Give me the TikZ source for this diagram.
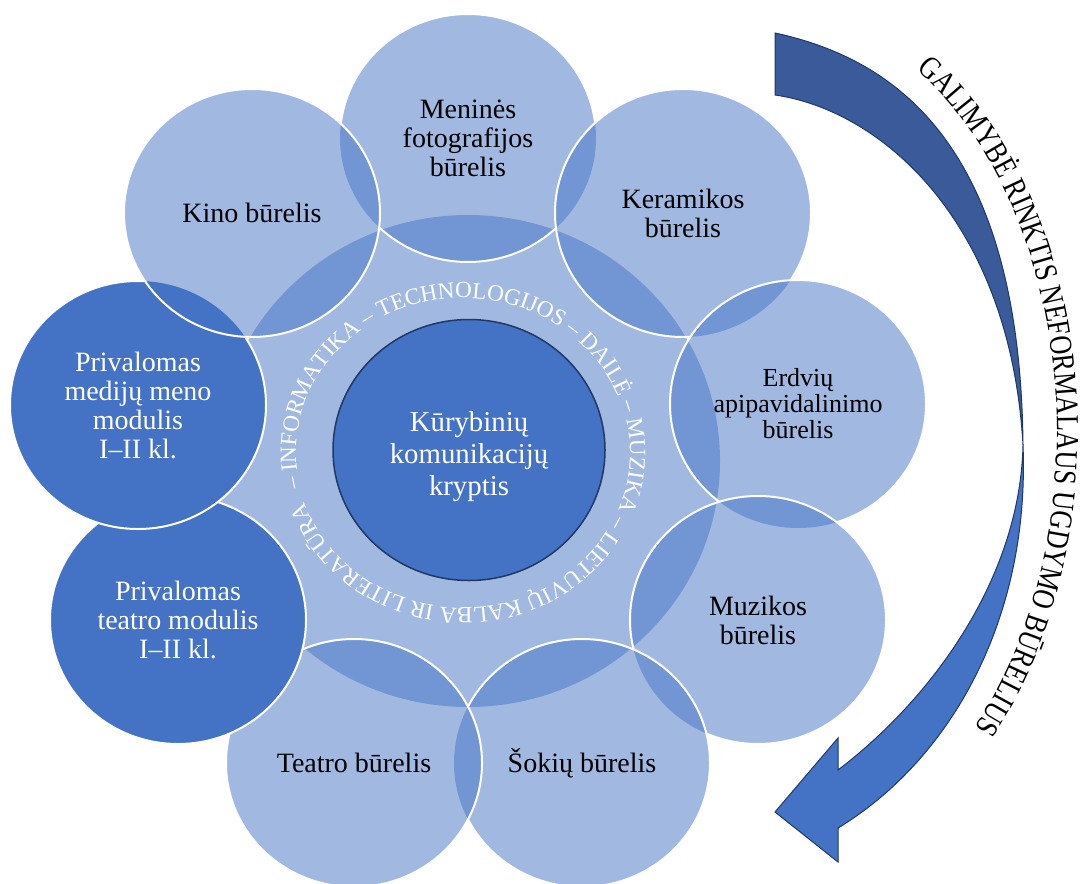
\documentclass[tikz,border=0pt]{standalone}
\usepackage{fontspec}
\setmainfont{Liberation Serif}
\newfontfamily\arrowfont[FakeStretch=0.82]{Liberation Serif}
\usetikzlibrary{shapes.geometric, decorations.text}
\definecolor{accent}{HTML}{4472C4}
\definecolor{accentdark}{HTML}{3A5A9A}
\definecolor{navy}{HTML}{203864}

\begin{document}
\begin{tikzpicture}[x=0.5pt, y=0.5pt,
                    bubble/.style={ellipse, minimum width=128pt, minimum height=124pt,
                        inner sep=0pt, align=center, fill=accent, fill opacity=0.5,
                        text opacity=1, font=\fontsize{14}{14.5}\selectfont},
                    module/.style={bubble, fill opacity=1, text=white},
                    rim/.style={draw=white, line width=1pt},
                    bubblepath/.style={insert path={++(64pt,0) arc [start angle=0,
                        end angle=360, x radius=64pt, y radius=62pt]}}]
                \useasboundingbox (0,0) rectangle (1081,-883);

                % ring and hub
                \node[ellipse, fill=accent, fill opacity=0.5, minimum width=252pt,
                      minimum height=246pt] (ring) at (468,-461) {};
                \node[ellipse, draw=navy, line width=0.75pt, fill=accent, text=white,
                      align=center, minimum width=136pt, minimum height=130.5pt,
                      font=\fontsize{14.4}{16}\selectfont] (hub) at (469,-450)
                      {\rule{0pt}{17pt}Kūrybinių\\komunikacijų\\kryptis};
                \path[decorate, decoration={text along path, text color=white,
                      text={|\fontsize{11.6}{11.6}\selectfont|– INFORMATIKA – TECHNOLOGIJOS – DAILĖ – MUZIKA – LIETUVIŲ KALBA IR LITERATŪRA}}]
                      (463,-453) ++(193:167 and 155)
                      arc [start angle=193, end angle=-177, x radius=167, y radius=155];

                % clubs
                \node[bubble] (foto) at (468,-138) {Meninės\\fotografijos\\būrelis};
                \node[bubble] (keram) at (683,-213) {Keramikos\\būrelis};
                \node[bubble, font=\fontsize{13}{13}\selectfont] (erdv) at (798,-404)
                      {Erdvių\\apipavidalinimo\\būrelis};
                \node[bubble] (muz) at (758,-620) {Muzikos\\būrelis};
                \node[bubble] (sok) at (582,-763) {Šokių būrelis};
                \node[bubble] (teat) at (354,-763) {Teatro būrelis};
                \node[module] (teatmod) at (178,-620) {Privalomas\\teatro modulis\\I–II kl.};
                \node[module] (medmod) at (138,-405) {Privalomas\\medijų meno\\modulis\\I–II kl.};
                \node[bubble] (kino) at (252,-213) {Kino būrelis};

                % white rims, hidden under the next club
                \begin{scope}
                    \clip (-10,10) -- (1091,10) -- (1091,-893) -- (-10,-893) -- cycle
                          (keram.center) [bubblepath] (kino.center) [bubblepath];
                    \draw[rim] (foto.center) [bubblepath];
                \end{scope}
                \begin{scope}
                    \clip (-10,10) -- (1091,10) -- (1091,-893) -- (-10,-893) -- cycle
                          (erdv.center) [bubblepath];
                    \draw[rim] (keram.center) [bubblepath];
                \end{scope}
                \begin{scope}
                    \clip (-10,10) -- (1091,10) -- (1091,-893) -- (-10,-893) -- cycle
                          (muz.center) [bubblepath];
                    \draw[rim] (erdv.center) [bubblepath];
                \end{scope}
                \begin{scope}
                    \clip (-10,10) -- (1091,10) -- (1091,-893) -- (-10,-893) -- cycle
                          (sok.center) [bubblepath];
                    \draw[rim] (muz.center) [bubblepath];
                \end{scope}
                \begin{scope}
                    \clip (-10,10) -- (1091,10) -- (1091,-893) -- (-10,-893) -- cycle
                          (teat.center) [bubblepath];
                    \draw[rim] (sok.center) [bubblepath];
                \end{scope}
                \begin{scope}
                    \clip (-10,10) -- (1091,10) -- (1091,-893) -- (-10,-893) -- cycle
                          (teatmod.center) [bubblepath];
                    \draw[rim] (teat.center) [bubblepath];
                \end{scope}
                \begin{scope}
                    \clip (-10,10) -- (1091,10) -- (1091,-893) -- (-10,-893) -- cycle
                          (medmod.center) [bubblepath];
                    \draw[rim] (teatmod.center) [bubblepath];
                \end{scope}
                \begin{scope}
                    \clip (-10,10) -- (1091,10) -- (1091,-893) -- (-10,-893) -- cycle
                          (kino.center) [bubblepath];
                    \draw[rim] (medmod.center) [bubblepath];
                \end{scope}
                \draw[rim] (kino.center) [bubblepath];

                % curved arrow
                \draw[navy, line width=0.5pt, fill=accentdark]
                      (775,-33) .. controls (900,-60) and (1020,-150) .. (1023,-445)
                      .. controls (1010,-220) and (880,-110) .. (775,-95) -- cycle;
                \draw[navy, line width=0.5pt, fill=accent]
                      (1023,-445) .. controls (1030,-620) and (950,-760) .. (838,-828)
                      -- (838,-862) -- (775,-812) -- (838,-738) -- (838,-770)
                      .. controls (930,-700) and (1020,-580) .. (1023,-445) -- cycle;
                \path[decorate, decoration={text along path,
                      text={|\fontsize{16}{16}\arrowfont|GALIMYBĖ RINKTIS NEFORMALAUS UGDYMO BŪRELIUS}}]
                      (775,-432) ++(60:282 and 418)
                      arc [start angle=60, end angle=-46, x radius=282, y radius=418];
\end{tikzpicture}
\end{document}
